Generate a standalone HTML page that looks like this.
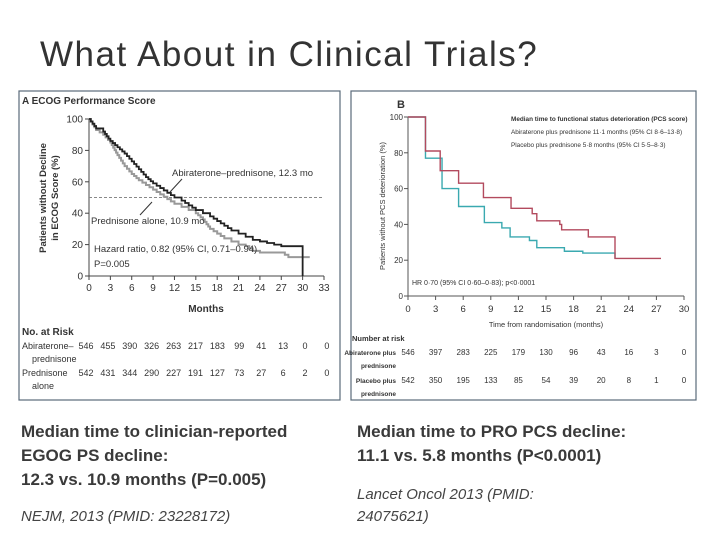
<!DOCTYPE html>
<html><head><meta charset="utf-8"><style>
body{margin:0;width:720px;height:540px;background:#fff;overflow:hidden;font-family:"Liberation Sans",sans-serif;position:relative}
.t{position:absolute;white-space:nowrap}
</style></head><body>
<div class="t" style="left:40px;top:35px;font-size:35px;letter-spacing:1.5px;color:#333">What About in Clinical Trials?</div>
<svg width="720" height="540" style="position:absolute;left:0;top:0" font-family="Liberation Sans, sans-serif">
<rect x="19" y="91" width="321" height="309" fill="none" stroke="#5a6a7a" stroke-width="1.2"/>
<rect x="351" y="91" width="345" height="309" fill="none" stroke="#5a6a7a" stroke-width="1.2"/>
<g id="ga"></g><g id="gb"></g>
</svg>
<div class="t" style="left:21px;top:420px;font-size:17px;font-weight:bold;color:#3a3a3a;line-height:24px">Median time to clinician-reported<br>EGOG PS decline:<br>12.3 vs. 10.9 months (P=0.005)</div>
<div class="t" style="left:21px;top:508px;font-size:15px;font-style:italic;color:#444">NEJM, 2013 (PMID: 23228172)</div>
<div class="t" style="left:357px;top:420px;font-size:17px;font-weight:bold;color:#3a3a3a;line-height:24px">Median time to PRO PCS decline:<br>11.1 vs. 5.8 months (P&lt;0.0001)</div>
<div class="t" style="left:357px;top:484px;font-size:15px;font-style:italic;color:#444;line-height:22px">Lancet Oncol 2013 (PMID:<br>24075621)</div>
<script>
const aTicks=[0,3,6,9,12,15,18,21,24,27,30,33];
const aYTicks=[0,20,40,60,80,100];
const abiA_t=[0,1,2,3,4,5,6,7,8,9,10,11,12,13,14,15,16,17,18,19,20,21,22,23,24,25,26,27,30];
const abiA_v=[100,94,92,86,82,78,73,68,63,59,56,53,50,48,45,42,40,38,35,32,29,27,25,23,22,21,20,19,19];
const predA_t=[0,1,2,3,4,5,6,7,8,9,10,11,12,13,14,15,16,17,18,19,20,21,22,23,24,27,28,31];
const predA_v=[100,93,90,85,77,70,65,61,58,55,52,49,46,44,42,40,36,30,27,24,22,20,19,16,15,15,12,12];
const riskA_abi=[546,455,390,326,263,217,183,99,41,13,0,0];
const riskA_pred=[542,431,344,290,227,191,127,73,27,6,2,0];
const bTicks=[0,3,6,9,12,15,18,21,24,27,30];
const bYTicks=[0,20,40,60,80,100];
const abiB_t=[0,1.9,3.5,5.5,8.2,11.2,13.5,14,16.5,16.7,19.6,22.5,27.5];
const abiB_v=[100,81,70,63,55,49,46,42,40,37,33,21,21];
const plaB_t=[0,1.9,3.7,5.5,8.3,10.2,11.1,13.2,14,17,19,22.5];
const plaB_v=[100,77,60,50,41,38,33,31,27,25,24,21];
const riskB_abi=[546,397,283,225,179,130,96,43,16,3,0];
const riskB_pla=[542,350,195,133,85,54,39,20,8,1,0];
const NS='http://www.w3.org/2000/svg';
function mk(p,tag,at,txt){const e=document.createElementNS(NS,tag);for(const k in at)e.setAttribute(k,at[k]);if(txt!==undefined)e.textContent=txt;p.appendChild(e);return e;}
function step(ts,vs,x,y){let d='M'+x(ts[0])+','+y(vs[0]);for(let i=1;i<ts.length;i++){d+='H'+x(ts[i])+'V'+y(vs[i]);}return d;}
function fine(ts,vs,x,y){let d='M'+x(ts[0])+','+y(vs[0]);for(let i=1;i<ts.length;i++){const x0=x(ts[i-1]),x1=x(ts[i]),y0=y(vs[i-1]),y1=y(vs[i]);const n=Math.max(1,Math.round(Math.abs(y1-y0)/2.5));for(let k=1;k<=n;k++){d+='H'+(x0+(x1-x0)*k/n)+'V'+(y0+(y1-y0)*k/n);}}return d;}
// Panel A
const ga=document.getElementById('ga');
const xa=t=>89+t*(324-89)/33, ya=v=>276-v*(276-119)/100;
let e;
e=mk(ga,'text',{x:22,y:104,'font-size':10,'font-weight':'bold',fill:'#333'},'A  ECOG Performance Score');

mk(ga,'line',{x1:89,y1:119,x2:89,y2:276,stroke:'#444'});
mk(ga,'line',{x1:89,y1:276,x2:324,y2:276,stroke:'#444'});
aTicks.forEach(t=>{mk(ga,'line',{x1:xa(t),y1:276,x2:xa(t),y2:280,stroke:'#444'});
 e=mk(ga,'text',{x:xa(t),y:291,'font-size':10,'text-anchor':'middle',fill:'#333'},t);
 });
aYTicks.forEach(v=>{mk(ga,'line',{x1:85,y1:ya(v),x2:89,y2:ya(v),stroke:'#444'});
 e=mk(ga,'text',{x:83,y:ya(v)+3.5,'font-size':10,'text-anchor':'end',fill:'#333'},v);
 });
e=mk(ga,'text',{transform:'translate(46,198) rotate(-90)','font-size':9.5,'font-weight':'bold','text-anchor':'middle',fill:'#333'},'Patients without Decline');

mk(ga,'text',{transform:'translate(58,198) rotate(-90)','font-size':9.5,'font-weight':'bold','text-anchor':'middle',fill:'#333'},'in ECOG Score (%)');
e=mk(ga,'text',{x:206,y:312,'font-size':10,'font-weight':'bold','text-anchor':'middle',fill:'#333'},'Months');

mk(ga,'line',{x1:89,y1:ya(50),x2:324,y2:ya(50),stroke:'#888','stroke-dasharray':'3,2'});
e=mk(ga,'path',{d:fine(predA_t,predA_v,xa,ya),fill:'none',stroke:'#999','stroke-width':2});

e=mk(ga,'path',{d:fine(abiA_t,abiA_v,xa,ya)+'V'+ya(0),fill:'none',stroke:'#222','stroke-width':1.8});

mk(ga,'text',{x:172,y:176,'font-size':9.5,fill:'#333'},'Abiraterone–prednisone, 12.3 mo');
mk(ga,'line',{x1:182,y1:179,x2:170,y2:192,stroke:'#333'});
mk(ga,'text',{x:91,y:224,'font-size':9.5,fill:'#333'},'Prednisone alone, 10.9 mo');
mk(ga,'line',{x1:140,y1:215,x2:152,y2:202,stroke:'#333'});
mk(ga,'text',{x:94,y:252,'font-size':9.5,fill:'#333'},'Hazard ratio, 0.82 (95% CI, 0.71–0.94)');
mk(ga,'text',{x:94,y:267,'font-size':9.5,fill:'#333'},'P=0.005');
mk(ga,'text',{x:22,y:335,'font-size':10,'font-weight':'bold',fill:'#333'},'No. at Risk');
mk(ga,'text',{x:22,y:349,'font-size':9,fill:'#333'},'Abiraterone–');
mk(ga,'text',{x:32,y:362,'font-size':9,fill:'#333'},'prednisone');
mk(ga,'text',{x:22,y:376,'font-size':9,fill:'#333'},'Prednisone');
mk(ga,'text',{x:32,y:389,'font-size':9,fill:'#333'},'alone');
const rxa=i=>86+i*21.9;
riskA_abi.forEach((n,i)=>{e=mk(ga,'text',{x:rxa(i),y:349,'font-size':9,'text-anchor':'middle',fill:'#333'},n);});
riskA_pred.forEach((n,i)=>{e=mk(ga,'text',{x:rxa(i),y:376,'font-size':9,'text-anchor':'middle',fill:'#333'},n);});
// Panel B
const gb=document.getElementById('gb');
const xb=t=>408+t*(684-408)/30, yb=v=>296-v*(296-117)/100;
e=mk(gb,'text',{x:397,y:108,'font-size':11,'font-weight':'bold',fill:'#333'},'B');

mk(gb,'line',{x1:408,y1:117,x2:408,y2:296,stroke:'#555'});
mk(gb,'line',{x1:408,y1:296,x2:684,y2:296,stroke:'#555'});
bTicks.forEach(t=>{mk(gb,'line',{x1:xb(t),y1:296,x2:xb(t),y2:300,stroke:'#555'});
 e=mk(gb,'text',{x:xb(t),y:312,'font-size':9.5,'text-anchor':'middle',fill:'#333'},t);
 });
bYTicks.forEach(v=>{mk(gb,'line',{x1:404,y1:yb(v),x2:408,y2:yb(v),stroke:'#555'});
 e=mk(gb,'text',{x:403,y:yb(v)+3,'font-size':8,'text-anchor':'end',fill:'#333'},v);
 });
e=mk(gb,'text',{transform:'translate(385,206) rotate(-90)','font-size':7.5,'text-anchor':'middle',fill:'#333'},'Patients without PCS deterioration (%)');

mk(gb,'text',{x:511,y:121,'font-size':6.4,fill:'#333','font-weight':'bold'},'Median time to functional status deterioration (PCS score)');
mk(gb,'text',{x:511,y:134,'font-size':6.4,fill:'#333'},'Abiraterone plus prednisone 11·1 months (95% CI 8·6–13·8)');
mk(gb,'text',{x:511,y:147,'font-size':6.4,fill:'#333'},'Placebo plus prednisone 5·8 months (95% CI 5·5–8·3)');
e=mk(gb,'path',{d:step(plaB_t,plaB_v,xb,yb),fill:'none',stroke:'#3aa9b0','stroke-width':1.4});

e=mk(gb,'path',{d:step(abiB_t,abiB_v,xb,yb),fill:'none',stroke:'#b34a5e','stroke-width':1.4});

mk(gb,'text',{x:412,y:285,'font-size':7,fill:'#333'},'HR 0·70 (95% CI 0·60–0·83); p<0·0001');
e=mk(gb,'text',{x:546,y:327,'font-size':7.5,'text-anchor':'middle',fill:'#333'},'Time from randomisation (months)');

mk(gb,'text',{x:352,y:341,'font-size':7.5,fill:'#333','font-weight':'bold'},'Number at risk');
mk(gb,'text',{x:396,y:355,'font-size':6.5,fill:'#333','text-anchor':'end','font-weight':'bold'},'Abiraterone plus');
mk(gb,'text',{x:396,y:368,'font-size':6.5,fill:'#333','text-anchor':'end','font-weight':'bold'},'prednisone');
mk(gb,'text',{x:396,y:383,'font-size':6.5,fill:'#333','text-anchor':'end','font-weight':'bold'},'Placebo plus');
mk(gb,'text',{x:396,y:396,'font-size':6.5,fill:'#333','text-anchor':'end','font-weight':'bold'},'prednisone');
riskB_abi.forEach((n,i)=>{e=mk(gb,'text',{x:xb(bTicks[i]),y:355,'font-size':8,'text-anchor':'middle',fill:'#333'},n);});
riskB_pla.forEach((n,i)=>{e=mk(gb,'text',{x:xb(bTicks[i]),y:383,'font-size':8,'text-anchor':'middle',fill:'#333'},n);});
</script>
</body></html>
